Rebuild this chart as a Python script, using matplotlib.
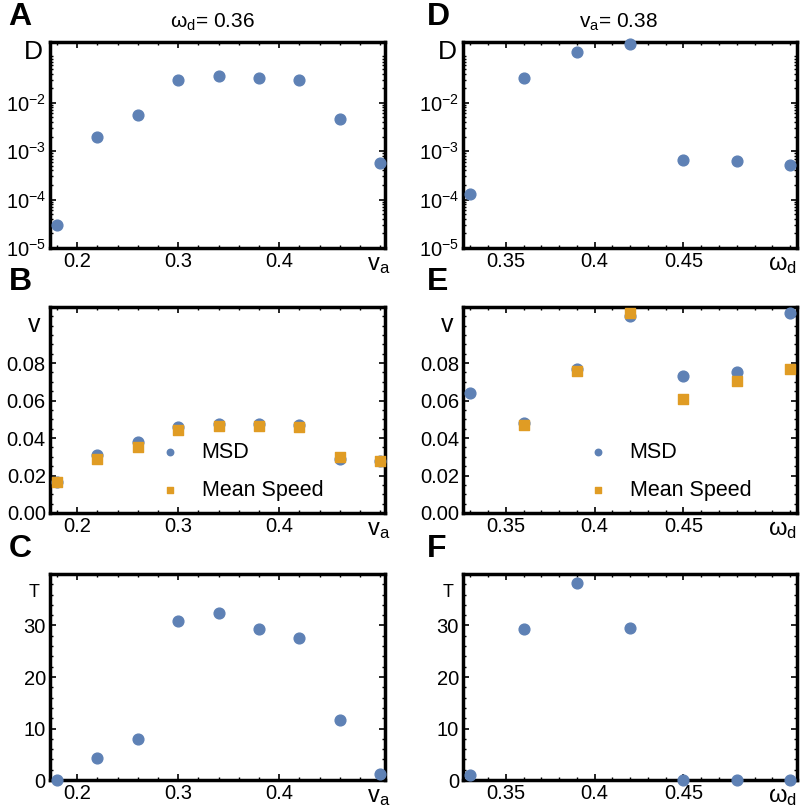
import matplotlib
matplotlib.use("Agg")
import matplotlib.pyplot as plt
import numpy as np
from matplotlib.ticker import AutoMinorLocator, LogLocator, NullFormatter

plt.rcParams['font.family'] = ['Liberation Sans', 'DejaVu Sans']
plt.rcParams['mathtext.fontset'] = 'custom'
plt.rcParams['mathtext.rm'] = 'Liberation Sans'
plt.rcParams['mathtext.it'] = 'Liberation Sans:italic'

# data
va = [0.18, 0.22, 0.26, 0.30, 0.34, 0.38, 0.42, 0.46, 0.50]
D_va = [3.0e-5, 2.0e-3, 5.6e-3, 0.030, 0.035, 0.032, 0.029, 4.7e-3, 5.6e-4]
msd_va = [0.0165, 0.0310, 0.0378, 0.0460, 0.0475, 0.0477, 0.0472, 0.0288, 0.0280]
speed_va = [0.0168, 0.0288, 0.0352, 0.0443, 0.0464, 0.0464, 0.0460, 0.0299, 0.0280]
tau_va = [0.0, 4.3, 7.9, 30.9, 32.4, 29.3, 27.5, 11.6, 1.2]

wd = [0.33, 0.36, 0.39, 0.42, 0.45, 0.48, 0.51]
D_wd = [1.3e-4, 0.033, 0.11, 0.16, 6.5e-4, 6.3e-4, 5.1e-4]
msd_wd = [0.064, 0.048, 0.0768, 0.105, 0.073, 0.075, 0.107]
speed_wd = [np.nan, 0.047, 0.0757, 0.1067, 0.0608, 0.0704, 0.0768]
tau_wd = [0.9, 29.3, 38.2, 29.6, 0.0, 0.0, 0.0]

blue = '#5E81B5'
orange = '#E09C24'

fig = plt.figure(figsize=(8, 8.09), dpi=100)

lefts = [0.0625, 0.579]
widths = [0.419, 0.4175]
bottoms = [0.6935, 0.3659, 0.0358]
h = 0.2547


def frame(ax, xlim, xticks, xlabels):
    ax.set_xlim(*xlim)
    ax.set_xticks(xticks)
    ax.set_xticklabels(xlabels)
    ax.xaxis.set_minor_locator(AutoMinorLocator(5))
    ax.tick_params(which='both', direction='in', top=True, right=True,
                   labelsize=14.5, pad=3)
    ax.tick_params(which='major', length=4, width=1.2)
    ax.tick_params(which='minor', length=2, width=1.0)
    for s in ax.spines.values():
        s.set_linewidth(2.5)


axes = {}
letters = [['A', 'B', 'C'], ['D', 'E', 'F']]
for c in range(2):
    for r in range(3):
        axes[(r, c)] = fig.add_axes([lefts[c], bottoms[r], widths[c], h])
        fig.text(lefts[c] - 0.052 if c == 0 else lefts[c] - 0.045,
                 bottoms[r] + h + 0.012, letters[c][r],
                 fontsize=23, fontweight='bold', va='bottom', ha='left')

va_lim = (0.173, 0.505)
wd_lim = (0.326, 0.514)
va_ticks = ([0.2, 0.3, 0.4], ['0.2', '0.3', '0.4'])
wd_ticks = ([0.35, 0.40, 0.45], ['0.35', '0.4', '0.45'])

for c, (x, D, msd, spd, tau, lim, tk, xl) in enumerate([
        (va, D_va, msd_va, speed_va, tau_va, va_lim, va_ticks, r'v$_{\mathregular{a}}$'),
        (wd, D_wd, msd_wd, speed_wd, tau_wd, wd_lim, wd_ticks, r'ω$_{\mathregular{d}}$')]):
    # D panels (log)
    ax = axes[(0, c)]
    ax.scatter(x, D, s=60, color=blue, zorder=3, clip_on=False)
    ax.set_yscale('log')
    ax.set_ylim(1e-5, 0.18)
    ax.set_yticks([1e-5, 1e-4, 1e-3, 1e-2])
    ax.set_yticklabels([r'10$^{-5}$', r'10$^{-4}$', r'10$^{-3}$', r'10$^{-2}$'])
    ax.yaxis.set_minor_locator(LogLocator(base=10, subs=np.arange(2, 10)))
    ax.yaxis.set_minor_formatter(NullFormatter())
    frame(ax, lim, *tk)
    ax.text(-0.02, 1.01, 'D', transform=ax.transAxes, ha='right', va='top', fontsize=19)

    # v panels
    ax = axes[(1, c)]
    ax.scatter(x, msd, s=60, color=blue, zorder=3, clip_on=False, label='MSD')
    ax.scatter(x, spd, s=60, marker='s', color=orange, zorder=4, clip_on=False,
               label='Mean Speed')
    ax.set_ylim(0, 0.11)
    ax.set_yticks([0, 0.02, 0.04, 0.06, 0.08])
    ax.set_yticklabels(['0.00', '0.02', '0.04', '0.06', '0.08'])
    ax.yaxis.set_minor_locator(AutoMinorLocator(4))
    frame(ax, lim, *tk)
    ax.text(-0.03, 0.97, 'v', transform=ax.transAxes, ha='right', va='top', fontsize=18)
    ax.legend(loc='lower left', bbox_to_anchor=(0.25 if c == 0 else 0.295, -0.015),
              frameon=False, fontsize=15.5, markerscale=0.6, handletextpad=0.45,
              labelspacing=0.8, borderpad=0.2)

    # tau panels
    ax = axes[(2, c)]
    ax.scatter(x, tau, s=60, color=blue, zorder=3, clip_on=False)
    ax.set_ylim(0, 40)
    ax.set_yticks([0, 10, 20, 30])
    ax.yaxis.set_minor_locator(AutoMinorLocator(5))
    frame(ax, lim, *tk)
    ax.text(-0.03, 0.95, 'T', transform=ax.transAxes, ha='right', va='top', fontsize=13)

    for r in range(3):
        xpos = 0.98 if c == 0 else 0.955
        axes[(r, c)].text(xpos, -0.03, xl, transform=axes[(r, c)].transAxes,
                          ha='center', va='top', fontsize=17)

fig.text(0.265, 0.972, r'ω$_{\mathregular{d}}$= 0.36', ha='center', va='center', fontsize=15)
fig.text(0.773, 0.972, r'v$_{\mathregular{a}}$= 0.38', ha='center', va='center', fontsize=15)

fig.savefig('out.png', dpi=100)
